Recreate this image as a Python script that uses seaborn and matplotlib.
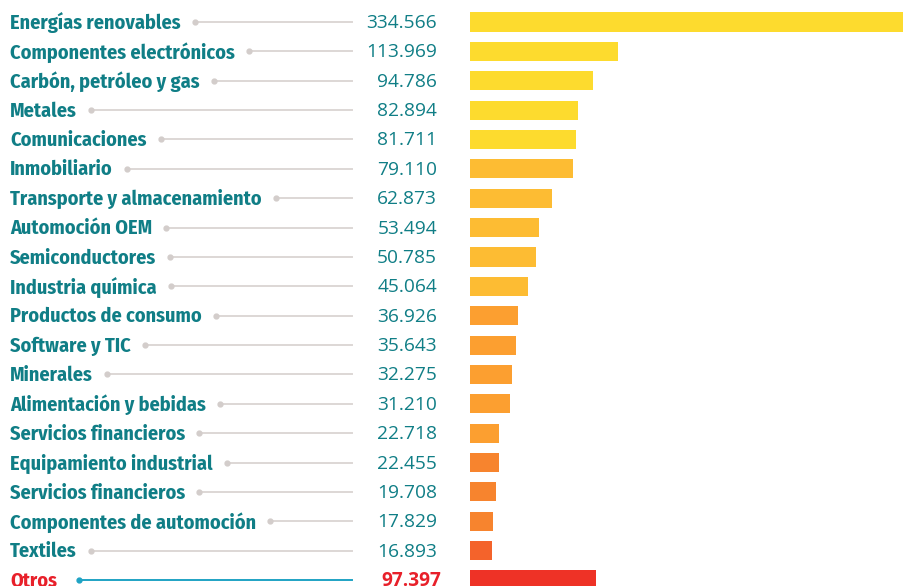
import matplotlib
matplotlib.use("Agg")
import matplotlib.pyplot as plt
import matplotlib.transforms as mtransforms
from matplotlib import font_manager
import seaborn as sns
import pandas as pd
import logging
logging.getLogger("matplotlib.font_manager").setLevel(logging.ERROR)

categories = ["Energías renovables", "Componentes electrónicos", "Carbón, petróleo y gas",
              "Metales", "Comunicaciones", "Inmobiliario", "Transporte y almacenamiento",
              "Automoción OEM", "Semiconductores", "Industria química", "Productos de consumo",
              "Software y TIC", "Minerales", "Alimentación y bebidas", "Servicios financieros",
              "Equipamiento industrial", "Servicios financieros ", "Componentes de automoción",
              "Textiles", "Otros"]
values = [334.566, 113.969, 94.786, 82.894, 81.711, 79.110, 62.873, 53.494, 50.785, 45.064,
          36.926, 35.643, 32.275, 31.210, 22.718, 22.455, 19.708, 17.829, 16.893, 97.397]
value_labels = ["334.566", "113.969", "94.786", "82.894", "81.711", "79.110", "62.873",
                "53.494", "50.785", "45.064", "36.926", "35.643", "32.275", "31.210",
                "22.718", "22.455", "19.708", "17.829", "16.893", "97.397"]
bar_colors = ["#FDDB2E"] * 5 + ["#FDBC33"] * 5 + ["#FC9F30"] * 5 + ["#F7842E"] * 3 + ["#F4632B", "#EE3226"]

names = {f.name for f in font_manager.fontManager.ttflist}
def pick(cands):
    return [c for c in cands if c in names] + ["DejaVu Sans"]
label_fam = pick(["Fira Sans Condensed", "Barlow Semi Condensed", "Asap Condensed"])
value_fam = pick(["Open Sans", "Noto Sans"])

W, H = 904, 586
fig = plt.figure(figsize=(W / 100, H / 100), dpi=100)
fig.patch.set_facecolor("white")

row0, step = 22.0, 29.37
top_px = row0 - step / 2
bot_px = row0 + step * (len(values) - 1) + step / 2
ax = fig.add_axes([470 / W, (H - bot_px) / H, (W - 470) / W, (bot_px - top_px) / H])

df = pd.DataFrame({"cat": categories, "val": values})
sns.barplot(data=df, x="val", y="cat", hue="cat", palette=bar_colors, legend=False,
            width=0.65, ax=ax, saturation=1)
ax.set_xlim(0, max(values))
ax.set_ylim(len(values) - 0.5, -0.5)
ax.axis("off")

trans = mtransforms.blended_transform_factory(fig.transFigure, ax.transData)
off = mtransforms.ScaledTranslation(0, -1 / 100, fig.dpi_scale_trans)
ttrans = trans + off
renderer = fig.canvas.get_renderer()
teal = "#107E86"
red = "#E8202A"
for i, (c, v) in enumerate(zip(categories, value_labels)):
    last = i == len(values) - 1
    t = fig.text(10 / W, i, c.strip(), transform=ttrans, ha="left", va="center",
                 fontsize=14.5, fontweight="bold", family=label_fam, color=red if last else teal)
    fig.text((441 if last else 437) / W, i, v, transform=ttrans, ha="right", va="center",
             fontsize=13.8, family=value_fam, color=red if last else teal,
             fontweight="bold" if last else "normal")
    bb = t.get_window_extent(renderer)
    x0 = bb.x1 + (22 if last else 14)
    linec = "#1FA3C4" if last else "#DDD7D5"
    fig.add_artist(plt.Line2D([x0 / W, 352 / W], [i, i], transform=trans, color=linec, lw=1.4))
    fig.add_artist(plt.Line2D([x0 / W], [i], transform=trans, marker="o", ms=3.5,
                              color="#1FA3C4" if last else "#D3CDCB", lw=0))

fig.savefig("out.png", dpi=100, facecolor="white")
